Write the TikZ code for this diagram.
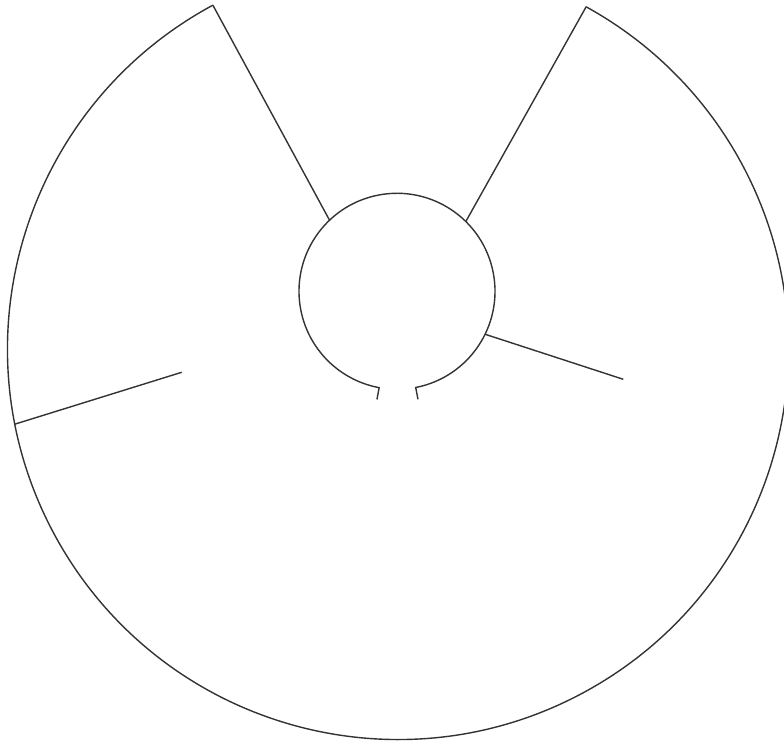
\documentclass[tikz,border=0pt]{standalone}
\usetikzlibrary{calc}
\definecolor{cwall}{HTML}{333333}
\tikzset{
  every picture/.style={line width=1.4pt},
  wall/.style={draw=cwall, line width=1.4pt},
}
\begin{document}
\begin{tikzpicture}[x=1pt, y=1pt]
  \useasboundingbox (0,0) rectangle (784,742);
  % centres of the two rings
  \coordinate (outerC) at (398,393);
  \coordinate (innerC) at (397,450.7);
  % points on the outer ring
  \coordinate (outTL) at ($(outerC)+(118.3:390.5)$);
  \coordinate (outTR) at ($(outerC)+(61.2:390.5)$);
  \coordinate (outL) at ($(outerC)+(191.1:390.5)$);
  % points on the inner ring
  \coordinate (inTL) at ($(innerC)+(133.5:98)$);
  \coordinate (inTR) at ($(innerC)+(45.4:98)$);
  \coordinate (inR) at ($(innerC)+(-26:98)$);
  \coordinate (gapL) at ($(innerC)+(259.5:98)$);
  \coordinate (gapR) at ($(innerC)+(281:98)$);
  \coordinate (tickL) at ($(innerC)+(259.5:110)$);
  \coordinate (tickR) at ($(innerC)+(281:110)$);
  % free ends of the spurs
  \coordinate (spurL) at (181.7,369.7);
  \coordinate (spurR) at (623.3,362.7);

  % outer ring, open at the top
  \draw[wall] (outTL) arc[start angle=118.3, end angle=421.2, radius=390.5];
  % inner ring, open at the bottom
  \draw[wall] (tickR) -- (gapR) arc[start angle=281, end angle=619.5, radius=98] -- (tickL);
  % walls
  \draw[wall] (outTL) -- (inTL);
  \draw[wall] (outTR) -- (inTR);
  \draw[wall] (inR) -- (spurR);
  \draw[wall] (outL) -- (spurL);
\end{tikzpicture}
\end{document}
